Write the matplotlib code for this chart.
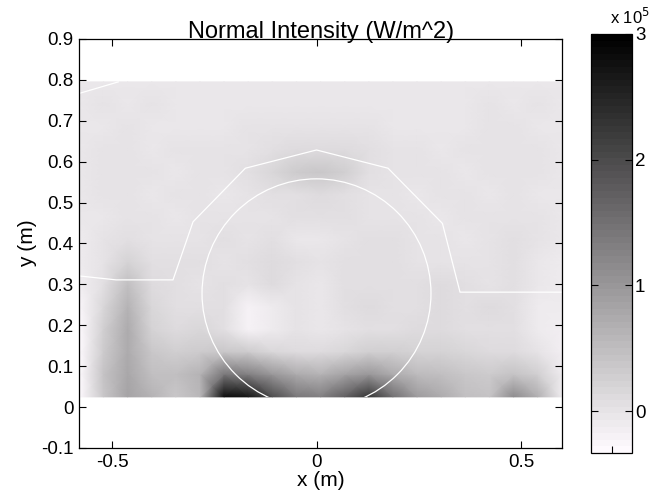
import numpy as np
import matplotlib
matplotlib.use("Agg")
import matplotlib.pyplot as plt
from matplotlib.colors import ListedColormap
from matplotlib.patches import Circle, Rectangle

plt.rcParams['font.family'] = ['Liberation Sans', 'DejaVu Sans']
plt.rcParams['axes.unicode_minus'] = False

# ---- data (intensity in units of 1e5 W/m^2) ----
x_grid = np.linspace(-0.58, 0.60, 21)
y_grid = np.linspace(0.025, 0.795, 15)

row_y0025 = [-0.30, 0.35, 0.85, 0.65, 0.35, 0.60, 2.80, 2.70, 2.00, 1.40, 1.30, 1.70, 2.30, 1.50, 0.95, 0.75, 0.50, 0.45, 1.15, 0.70, -0.10]
row_y0080 = [-0.30, 0.40, 0.80, 0.50, 0.50, 0.65, 1.40, 1.30, 1.00, 0.75, 0.65, 0.85, 1.00, 0.75, 0.55, 0.50, 0.35, 0.30, 0.45, 0.25, -0.10]
row_y0135 = [-0.30, 0.30, 0.75, 0.35, 0.25, 0.30, 0.35, 0.30, 0.15, 0.10, 0.10, 0.15, 0.25, 0.25, 0.20, 0.20, 0.15, 0.10, 0.10, 0.00, -0.15]
row_y0190 = [-0.30, 0.25, 0.75, 0.20, 0.10, 0.15, 0.05, -0.18, -0.12, 0.00, -0.05, 0.00, 0.05, 0.05, 0.10, 0.10, 0.05, 0.05, 0.05, -0.10, -0.15]
row_y0245 = [-0.25, 0.15, 0.65, 0.15, 0.05, 0.05, 0.05, -0.18, -0.08, 0.00, -0.05, 0.05, 0.10, 0.05, 0.05, 0.10, 0.05, 0.10, 0.05, -0.10, -0.10]
row_y0300 = [-0.15, 0.05, 0.50, 0.10, 0.05, 0.00, 0.05, 0.00, 0.12, 0.00, -0.05, 0.05, 0.05, 0.05, 0.05, 0.12, 0.05, 0.00, 0.05, -0.05, -0.10]
row_y0355 = [-0.10, 0.00, 0.20, 0.05, 0.05, 0.05, 0.00, 0.05, 0.10, 0.05, 0.00, 0.05, 0.05, 0.05, 0.00, 0.00, 0.00, 0.00, 0.05, -0.05, -0.10]
row_y0410 = [-0.10, 0.00, 0.05, 0.00, 0.00, 0.00, 0.05, 0.00, 0.05, -0.02, -0.02, 0.00, 0.05, 0.05, 0.00, 0.00, -0.02, 0.00, 0.05, 0.00, -0.05]
row_y0465 = [-0.05, -0.02, 0.00, 0.00, -0.02, 0.00, 0.00, 0.02, 0.03, 0.05, 0.05, 0.05, 0.03, 0.00, 0.00, -0.02, 0.00, 0.00, 0.02, 0.00, -0.05]
row_y0520 = [-0.05, 0.00, 0.00, -0.02, 0.00, 0.00, -0.02, 0.00, 0.04, 0.08, 0.10, 0.07, 0.02, 0.00, -0.02, 0.00, 0.00, -0.02, 0.00, -0.02, -0.05]
row_y0575 = [-0.05, 0.00, 0.00, 0.00, -0.02, 0.00, 0.00, 0.04, 0.15, 0.30, 0.35, 0.25, 0.08, 0.02, 0.00, 0.00, -0.02, 0.00, 0.02, 0.00, -0.05]
row_y0630 = [-0.05, 0.00, 0.00, -0.02, 0.00, 0.00, 0.00, 0.02, 0.06, 0.12, 0.12, 0.10, 0.04, 0.00, 0.00, -0.02, 0.00, 0.00, 0.02, 0.00, -0.05]
row_y0685 = [-0.06, -0.02, 0.00, -0.03, -0.05, -0.03, -0.05, 0.00, 0.02, 0.02, 0.00, 0.02, 0.00, -0.02, -0.05, -0.03, -0.02, 0.00, 0.00, -0.03, -0.06]
row_y0740 = [-0.06, 0.00, -0.03, 0.00, -0.05, -0.06, -0.05, -0.05, -0.03, -0.05, -0.06, -0.05, -0.05, -0.06, -0.05, -0.05, -0.03, 0.00, -0.03, 0.00, -0.06]
row_y0795 = [-0.06] * 21

intensity = np.array([row_y0025, row_y0080, row_y0135, row_y0190, row_y0245,
                      row_y0300, row_y0355, row_y0410, row_y0465, row_y0520,
                      row_y0575, row_y0630, row_y0685, row_y0740, row_y0795])

# white outline contours
hat_x = [-0.579, -0.490, -0.351, -0.302, -0.174, 0.0, 0.175, 0.308, 0.351, 0.60]
hat_y = [0.3205, 0.311, 0.311, 0.453, 0.584, 0.6286, 0.584, 0.449, 0.281, 0.281]
corner_x = [-0.58, -0.485]
corner_y = [0.767, 0.795]
circle_center = (0.0, 0.278)
circle_radius = 0.28

clim = (-0.33, 3.0)
x_ticks = [-0.5, 0, 0.5]
y_ticks = [-0.1, 0, 0.1, 0.2, 0.3, 0.4, 0.5, 0.6, 0.7, 0.8, 0.9]
cb_ticks = [0, 1, 2, 3]

# ---- colormap: MATLAB-like inverted gray with 64 steps ----
t = np.linspace(0, 1, 64)
cols = np.column_stack([0.995 * (1 - t), 0.982 * (1 - t), 0.995 * (1 - t)])
cmap = ListedColormap(cols)

fig = plt.figure(figsize=(6.67, 4.97), dpi=100)
ax = fig.add_axes([0.119, 0.0986, 0.7233, 0.823])
cax = fig.add_axes([0.8856, 0.0891, 0.0624, 0.8425])

X, Y = np.meshgrid(x_grid, y_grid)
pm = ax.pcolormesh(X, Y, intensity, shading='gouraud', cmap=cmap,
                   vmin=clim[0], vmax=clim[1])

ax.plot(hat_x, hat_y, color='white', lw=0.9)
ax.plot(corner_x, corner_y, color='white', lw=0.9)
circ = Circle(circle_center, circle_radius, fill=False, ec='white', lw=0.9)
ax.add_patch(circ)
clip_rect = Rectangle((x_grid[0], y_grid[0]), x_grid[-1] - x_grid[0],
                      y_grid[-1] - y_grid[0], transform=ax.transData)
circ.set_clip_path(clip_rect)

ax.set_xlim(-0.58, 0.60)
ax.set_ylim(-0.1, 0.9)
ax.set_xticks(x_ticks)
ax.set_xticklabels(['-0.5', '0', '0.5'])
ax.set_yticks(y_ticks)
ax.set_yticklabels(['%g' % v for v in y_ticks])
ax.tick_params(direction='in', top=True, right=True, length=5, width=0.8,
               labelsize=13.5, pad=4)
for s in ax.spines.values():
    s.set_linewidth(0.9)
ax.set_xlabel('x (m)', fontsize=15, labelpad=0)
ax.set_ylabel('y (m)', fontsize=15, labelpad=3)
ax.set_title('Normal Intensity (W/m^2)', fontsize=17, pad=1)

cb = fig.colorbar(pm, cax=cax)
cb.set_ticks(cb_ticks)
cb.set_ticklabels(['0', '1', '2', '3'])
cb.outline.set_linewidth(0.9)
cax.tick_params(axis='y', direction='in', left=True, right=True, length=5,
                width=0.8, labelsize=13.5, pad=2)
cax.set_xticks([0.5])
cax.tick_params(axis='x', direction='in', bottom=True, labelbottom=False,
                length=5, width=0.8)

fig.text(0.915, 0.952, r'x 10$^{5}$', fontsize=12, ha='left', va='baseline')

fig.savefig('out.png', dpi=100)
